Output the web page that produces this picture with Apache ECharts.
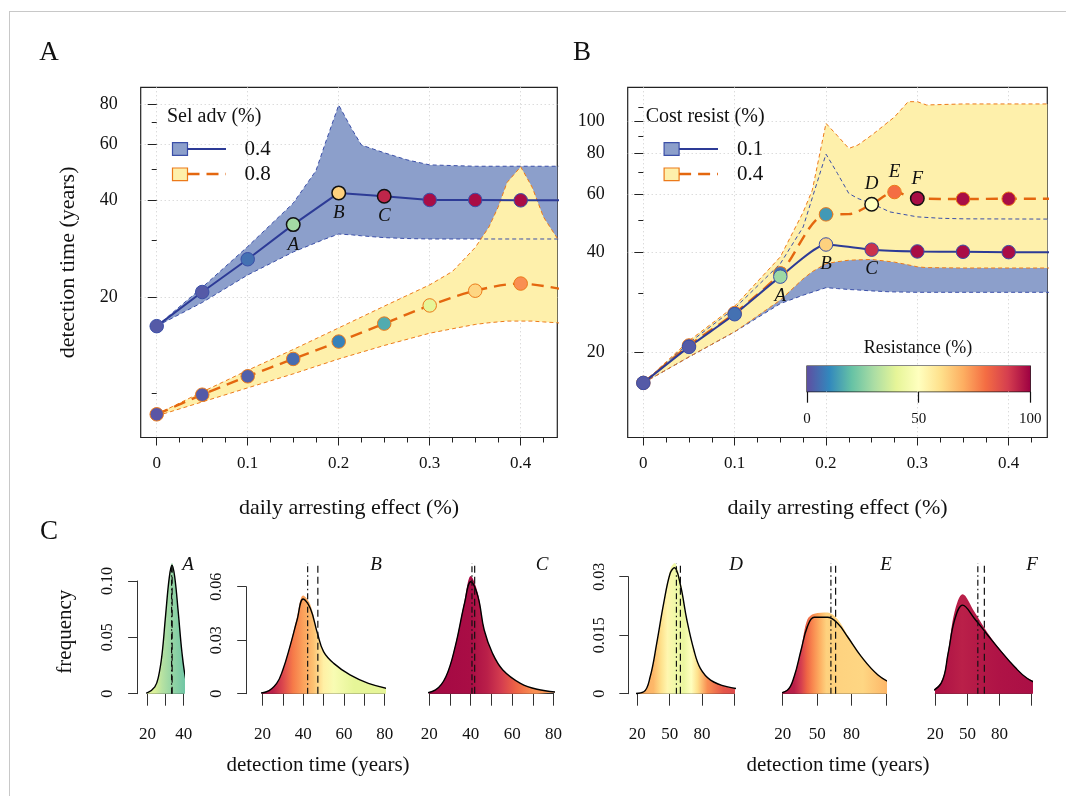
<!DOCTYPE html>
<html><head><meta charset="utf-8">
<script src="https://cdn.jsdelivr.net/npm/echarts@6/dist/echarts.min.js"></script>
<style>
html,body{margin:0;padding:0;background:#fff;overflow:hidden;}
#c{width:1066px;height:796px;}
#frame{position:absolute;left:9px;top:11px;width:1200px;height:900px;border-left:1px solid #c8c8c8;border-top:1px solid #c8c8c8;pointer-events:none;}
</style>
</head><body><div id="c"></div><div id="frame"></div>
<script>
// ---------------- DATA ----------------
// Panel A : Sel adv (%) 0.4 and 0.8
const A_x = [0, 0.05, 0.1, 0.15, 0.2, 0.25, 0.3, 0.35, 0.4];
const A_sel04_mean = [16.2, 20.7, 26.2, 33.6, 42.2, 41.2, 40.1, 40.1, 40.0];
const A_sel04_res  = [2, 2, 6, 29, 63, 94, 98, 98, 98];
const A_sel08_mean = [8.6, 9.9, 11.3, 12.8, 14.5, 16.5, 18.8, 20.9, 22.0];
const A_sel08_res  = [1, 2, 3, 5, 9, 16, 40, 62, 75];
const A_tail_x = 0.45;
const A_sel04_tail = 40.0;
const A_sel08_tail = 21.0;

const A_band04_x  = [0, 0.05, 0.1, 0.15, 0.175, 0.185, 0.2, 0.215, 0.225, 0.25, 0.275, 0.3, 0.35, 0.4, 0.45];
const A_band04_lo = [16.2, 19.2, 23.4, 27.6, 29.5, 30.3, 31.4, 31.2, 31.0, 30.6, 30.4, 30.3, 30.3, 30.3, 30.3];
const A_band04_hi = [16.2, 21.4, 28.7, 39.2, 49.5, 60.0, 79.3, 66.3, 59.5, 56.3, 53.5, 51.6, 51.1, 51.1, 51.1];
const A_band08_x  = [0, 0.05, 0.1, 0.15, 0.2, 0.25, 0.3, 0.325, 0.35, 0.365, 0.375, 0.385, 0.4, 0.4125, 0.425, 0.44, 0.45];
const A_band08_lo = [8.5, 9.4, 10.4, 11.5, 12.8, 14.1, 15.4, 15.9, 16.4, 16.6, 16.7, 16.8, 16.8, 16.8, 16.7, 16.6, 16.5];
const A_band08_hi = [8.6, 10.1, 11.8, 13.7, 16.0, 18.7, 21.8, 24.0, 28.5, 33.0, 38.0, 45.5, 50.9, 44.0, 35.5, 30.5, 29.0];

// Panel B : Cost resist (%) 0.1 and 0.4
const B_x = [0, 0.05, 0.1, 0.15, 0.2, 0.25, 0.3, 0.35, 0.4];
const B_cost01_mean = [16.1, 20.7, 26.0, 33.8, 42.3, 40.8, 40.3, 40.2, 40.1];
const B_cost01_res  = [2, 2, 6, 28, 63, 92, 98, 98, 98];
const B_cost04_x    = [0, 0.05, 0.1, 0.15, 0.2, 0.25, 0.275, 0.3, 0.35, 0.4];
const B_cost04_mean = [16.1, 20.9, 26.2, 34.6, 52.2, 56.0, 61.0, 58.3, 58.1, 58.2];
const B_cost04_res  = [1, 2, 5, 6, 13, 50, 80, 98, 98, 98];
const B_cost04_line_x = [0, 0.05, 0.1, 0.15, 0.2, 0.225, 0.25, 0.275, 0.3, 0.35, 0.4, 0.45];
const B_cost04_line   = [16.1, 20.9, 26.2, 34.6, 52.2, 52.3, 56.0, 61.0, 58.3, 58.1, 58.2, 58.2];
const B_tail_x = 0.45;
const B_cost01_tail = 40.1;

const B_band01_x  = [0, 0.05, 0.1, 0.15, 0.175, 0.2, 0.2125, 0.225, 0.235, 0.25, 0.27, 0.3, 0.325, 0.35, 0.45];
const B_band01_lo = [16.1, 19.3, 23.0, 28.0, 29.7, 31.3, 31.1, 30.9, 30.8, 30.6, 30.4, 30.3, 30.3, 30.3, 30.3];
const B_band01_hi = [16.1, 21.3, 27.1, 37.0, 47.8, 79.5, 69.5, 60.4, 58.3, 56.3, 53.1, 51.3, 50.8, 50.6, 50.5];
const B_band04_x  = [0, 0.05, 0.1, 0.15, 0.175, 0.185, 0.2, 0.212, 0.225, 0.235, 0.25, 0.275, 0.29, 0.3, 0.31, 0.35, 0.45];
const B_band04_lo = [16.1, 19.3, 23.0, 28.7, 33.3, 35.0, 37.0, 37.5, 37.9, 38.0, 38.1, 37.4, 36.7, 36.2, 36.0, 35.9, 35.9];
const B_band04_hi = [16.1, 21.6, 27.5, 38.8, 53.0, 61.8, 98.5, 90.7, 82.7, 84.7, 90.7, 103.0, 114.6, 114.6, 112.0, 112.8, 112.8];

// axis ticks
const X_LABELS = [0, 0.1, 0.2, 0.3, 0.4];
const X_MINOR = [0.025, 0.05, 0.075, 0.125, 0.15, 0.175, 0.225, 0.25, 0.275, 0.325, 0.35, 0.375, 0.425];
const A_Y_LABELS = [20, 40, 60, 80];
const A_Y_MINOR = [10, 30, 50, 70];
const B_Y_LABELS = [20, 40, 60, 80, 100];
const B_Y_MINOR = [30, 50, 70, 90, 110];
const CB_TICKS = [0, 50, 100];

// Panel C histograms (detection time in years, frequency)
const CA_x    = [16, 20, 24, 26, 28, 30, 32, 33.5, 35, 37, 39, 41, 43, 46, 50];
const CA_dens = [0, 0.001, 0.006, 0.015, 0.035, 0.07, 0.103, 0.114, 0.104, 0.072, 0.037, 0.014, 0.004, 0.0005, 0];
const CA_hist = [0, 0.001, 0.006, 0.015, 0.036, 0.071, 0.104, 0.116, 0.105, 0.073, 0.037, 0.014, 0.004, 0.0005, 0];
const CA_resX = [16, 24, 28, 32, 36, 40, 50];
const CA_res  = [42, 38, 32, 28, 25, 22, 20];
const CA_lines = [33.3, 33.6];

const CB_x    = [14, 22, 27, 30, 33.5, 37, 40, 43.5, 47, 50, 55, 63, 72, 83];
const CB_dens = [0, 0.0011, 0.0058, 0.0133, 0.0264, 0.0413, 0.0531, 0.0479, 0.0339, 0.0236, 0.017, 0.0105, 0.0058, 0.0025];
const CB_hist = [0, 0.0012, 0.006, 0.0135, 0.027, 0.043, 0.055, 0.05, 0.034, 0.024, 0.017, 0.0105, 0.0058, 0.0025];
const CB_resX = [14, 25, 30, 35, 40, 45, 50, 55, 65, 83];
const CB_res  = [97, 95, 88, 78, 72, 66, 55, 47, 40, 40];
const CB_lines = [42.2, 47.2];

const CC_x    = [15.5, 23, 28, 32.5, 37, 40, 43.5, 46.5, 50.5, 55.5, 64, 72, 82.5];
const CC_dens = [0, 0.0021, 0.0095, 0.0264, 0.0507, 0.0628, 0.0544, 0.0357, 0.0227, 0.0133, 0.0058, 0.0025, 0.0008];
const CC_hist = [0, 0.0022, 0.0098, 0.027, 0.052, 0.066, 0.056, 0.036, 0.0228, 0.0133, 0.0058, 0.0025, 0.0008];
const CC_resX = [15, 40, 48, 55, 62, 70, 82];
const CC_res  = [99, 98, 95, 90, 82, 75, 72];
const CC_lines = [40.6, 41.9];

const CD_x    = [15, 26, 32, 38, 44.5, 50.5, 54.5, 60, 66, 72.5, 78.5, 88, 103, 125];
const CD_dens = [0, 0.0005, 0.0044, 0.0129, 0.0232, 0.0309, 0.0323, 0.0279, 0.0189, 0.0112, 0.0065, 0.0035, 0.0018, 0.0009];
const CD_hist = [0, 0.0005, 0.0045, 0.013, 0.0235, 0.0318, 0.0335, 0.029, 0.019, 0.0112, 0.0065, 0.0035, 0.0018, 0.0009];
const CD_resX = [15, 35, 42, 48, 55, 63, 70, 76, 85, 100, 125];
const CD_res  = [72, 68, 60, 53, 44, 42, 50, 60, 75, 85, 90];
const CD_lines = [56.3, 60.0];

const CE_x    = [11.5, 24, 30, 36, 41.5, 47.5, 59, 68, 76.5, 88.5, 103, 117.5, 125.5];
const CE_dens = [0, 0.0009, 0.0044, 0.0112, 0.0172, 0.0196, 0.0196, 0.018, 0.0146, 0.0095, 0.0048, 0.0022, 0.0011];
const CE_hist = [0, 0.001, 0.0046, 0.0115, 0.019, 0.0205, 0.0208, 0.019, 0.015, 0.0097, 0.0049, 0.0023, 0.0012];
const CE_resX = [11, 30, 36, 41, 46, 52, 58, 90, 110, 126];
const CE_res  = [97, 95, 90, 82, 76, 70, 63, 62, 68, 72];
const CE_lines = [62.0, 66.1];

const CF_x    = [12, 25.5, 32, 38, 45.5, 56.5, 69, 81.5, 94, 106, 126];
const CF_dens = [0, 0.0027, 0.0104, 0.0189, 0.0227, 0.0193, 0.015, 0.0108, 0.0069, 0.0039, 0.0014];
const CF_hist = [0, 0.003, 0.011, 0.021, 0.0255, 0.021, 0.0155, 0.011, 0.007, 0.004, 0.0015];
const CF_resX = [12, 35, 45, 60, 80, 126];
const CF_res  = [98, 96, 95, 96, 97, 98];
const CF_lines = [59.7, 65.8];

const C_TICKS_AB = [20, 30, 40];
const C_LABELS_A = [20, 40];
const C_TICKS_BC = [20, 30, 40, 50, 60, 70, 80];
const C_LABELS_BC = [20, 40, 60, 80];
const C_TICKS_DEF = [20, 50, 80, 110];
const C_LABELS_DEF = [20, 50, 80];
const CA_YT = [0, 0.05, 0.1];
const CA_YT_TXT = ['0', '0.05', '0.10'];
const CB_YT = [0, 0.03, 0.06];
const CB_YT_TXT = ['0', '0.03', '0.06'];
const CD_YT = [0, 0.015, 0.03];
const CD_YT_TXT = ['0', '0.015', '0.03'];

// ---------------- STYLE ----------------
const FONT = '"Liberation Serif", "DejaVu Serif", serif';
const SPECTRAL = ['#5E4FA2','#3288BD','#66C2A5','#ABDDA4','#E6F598','#FFFFBF','#FEE08B','#FDAE61','#F46D43','#D53E4F','#9E0142'];
const BLUE_LINE = '#2D3B96', BLUE_EDGE = '#3B4FA8', BLUE_FILL = '#8C9FCB';
const OR_LINE = '#E4670F', OR_EDGE = '#EC7A1A', YEL_FILL = '#FEF0AB';

function hex2rgb(h){ h = h.replace('#',''); return [parseInt(h.substr(0,2),16), parseInt(h.substr(2,2),16), parseInt(h.substr(4,2),16)]; }
function resColor(r){
  const t = Math.max(0, Math.min(100, r)) / 10;
  const i = Math.min(9, Math.floor(t)); const f = t - i;
  const a = hex2rgb(SPECTRAL[i]), b = hex2rgb(SPECTRAL[i+1]);
  const c = a.map((v,k)=>Math.round(v + (b[k]-v)*f));
  return 'rgb(' + c.join(',') + ')';
}
function zip(xs, ys){ return xs.map((x,i)=>[x, ys[i]]); }

const xAxes = [], yAxes = [], series = [];
const tickLine = {color:'#222', width:1};

function mainAxes(gi, xr, yr, yLab, yMin, yName){
  const xi = xAxes.length;
  xAxes.push({gridIndex:gi, type:'value', position:'bottom', min:xr[0], max:xr[1],
    axisLine:{show:false},
    axisTick:{show:true, length:8, customValues:X_LABELS, lineStyle:tickLine},
    axisLabel:{show:true, customValues:X_LABELS, margin:18, fontSize:17, fontFamily:FONT, color:'#111', formatter:v=>String(+(+v).toFixed(3))},
    splitLine:{show:true, lineStyle:{color:'#cccccc', type:[1,3], width:1}},
    name:'daily arresting effect (%)', nameLocation:'middle', nameGap:60,
    nameTextStyle:{fontSize:22, fontFamily:FONT, color:'#111'}});
  xAxes.push({gridIndex:gi, type:'value', position:'bottom', min:xr[0], max:xr[1],
    axisLine:{show:false}, axisTick:{show:true, length:5, customValues:X_MINOR, lineStyle:tickLine},
    axisLabel:{show:false}, splitLine:{show:false}});
  const yi = yAxes.length;
  const y0 = {gridIndex:gi, type:'log', logBase:10, position:'left', min:yr[0], max:yr[1],
    axisLine:{show:false},
    axisTick:{show:true, length:9, customValues:yLab, lineStyle:tickLine},
    axisLabel:{show:true, customValues:yLab, margin:23, fontSize:18, fontFamily:FONT, color:'#111'},
    splitLine:{show:true, lineStyle:{color:'#cccccc', type:[1,3], width:1}}};
  if (yName){ y0.name = yName; y0.nameLocation = 'middle'; y0.nameGap = 61;
    y0.nameTextStyle = {fontSize:22, fontFamily:FONT, color:'#111'}; }
  yAxes.push(y0);
  yAxes.push({gridIndex:gi, type:'log', logBase:10, position:'left', min:yr[0], max:yr[1],
    axisLine:{show:false}, axisTick:{show:true, length:5, customValues:yMin, lineStyle:tickLine},
    axisLabel:{show:false}, splitLine:{show:false}});
  return [xi, yi];
}

// filled band between lower and upper curves, drawn through the axes' scales
function band(xi, yi, xs, lo, hi, fill){
  series.push({type:'custom', xAxisIndex:xi, yAxisIndex:yi, silent:true, z:1,
    data: zip(xs, hi),
    renderItem:(params, api)=>{
      if (params.dataIndex !== 0) return null;
      const up = xs.map((x,i)=>api.coord([x, hi[i]]));
      const dn = xs.map((x,i)=>api.coord([x, lo[i]])).reverse();
      const cs = params.coordSys;
      return {type:'polygon', shape:{points:up.concat(dn)}, style:{fill:fill, stroke:null},
        clipPath:{type:'rect', shape:{x:cs.x, y:cs.y, width:cs.width, height:cs.height}}};
    }});
}
function edge(xi, yi, xs, ys, color){
  series.push({type:'line', xAxisIndex:xi, yAxisIndex:yi, data:zip(xs, ys), symbol:'none', silent:true,
    lineStyle:{color:color, width:1, type:[4,3]}, z:2});
}
function meanLine(xi, yi, xs, ys, color, dashed, smooth){
  series.push({type:'line', xAxisIndex:xi, yAxisIndex:yi, data:zip(xs, ys), symbol:'none', silent:true, smooth:smooth,
    lineStyle:{color:color, width: dashed ? 2.4 : 2, type: dashed ? [12,7] : 'solid'}, z:3});
}
function points(xi, yi, xs, ys, rs, edgeColor, marks){
  const data = xs.map((x,i)=>{
    const m = marks[i];
    const d = {value:[x, ys[i]], itemStyle:{color:resColor(rs[i]), opacity:1, borderColor: m && m.black ? '#111' : edgeColor, borderWidth: m && m.black ? 1.5 : 1}};
    if (m) d.label = {show:true, formatter:m.t, position:m.pos, distance:3, fontStyle:'italic', fontSize:19, fontFamily:FONT, color:'#111'};
    return d;
  });
  series.push({type:'scatter', xAxisIndex:xi, yAxisIndex:yi, data:data, symbol:'circle', symbolSize:13.5, silent:true, z:4,
    itemStyle:{opacity:1}});
}

// Panel A
const [axA, ayA] = mainAxes(0, [-0.0176, 0.4402], [7.28, 90.1], A_Y_LABELS, A_Y_MINOR, 'detection time (years)');
band(axA, ayA, A_band04_x, A_band04_lo, A_band04_hi, BLUE_FILL);
band(axA, ayA, A_band08_x, A_band08_lo, A_band08_hi, YEL_FILL);
edge(axA, ayA, A_band04_x, A_band04_lo, BLUE_EDGE);
edge(axA, ayA, A_band04_x, A_band04_hi, BLUE_EDGE);
edge(axA, ayA, A_band08_x, A_band08_lo, OR_EDGE);
edge(axA, ayA, A_band08_x, A_band08_hi, OR_EDGE);
meanLine(axA, ayA, A_x.concat([A_tail_x]), A_sel04_mean.concat([A_sel04_tail]), BLUE_LINE, false, false);
meanLine(axA, ayA, A_x.concat([A_tail_x]), A_sel08_mean.concat([A_sel08_tail]), OR_LINE, true, 0.3);
points(axA, ayA, A_x, A_sel08_mean, A_sel08_res, OR_EDGE, {});
points(axA, ayA, A_x, A_sel04_mean, A_sel04_res, BLUE_EDGE,
  {3:{t:'A', pos:'bottom', black:true}, 4:{t:'B', pos:'bottom', black:true}, 5:{t:'C', pos:'bottom', black:true}});

// Panel B
const [axB, ayB] = mainAxes(1, [-0.0171, 0.4423], [11.0, 126.7], B_Y_LABELS, B_Y_MINOR, null);
band(axB, ayB, B_band01_x, B_band01_lo, B_band01_hi, BLUE_FILL);
band(axB, ayB, B_band04_x, B_band04_lo, B_band04_hi, YEL_FILL);
edge(axB, ayB, B_band01_x, B_band01_lo, BLUE_EDGE);
edge(axB, ayB, B_band01_x, B_band01_hi, BLUE_EDGE);
edge(axB, ayB, B_band04_x, B_band04_lo, OR_EDGE);
edge(axB, ayB, B_band04_x, B_band04_hi, OR_EDGE);
meanLine(axB, ayB, B_cost04_line_x, B_cost04_line, OR_LINE, true, 0.3);
meanLine(axB, ayB, B_x.concat([B_tail_x]), B_cost01_mean.concat([B_cost01_tail]), BLUE_LINE, false, 0.2);
points(axB, ayB, B_cost04_x, B_cost04_mean, B_cost04_res, OR_EDGE,
  {5:{t:'D', pos:'top', black:true}, 6:{t:'E', pos:'top'}, 7:{t:'F', pos:'top', black:true}});
points(axB, ayB, B_x, B_cost01_mean, B_cost01_res, BLUE_EDGE,
  {3:{t:'A', pos:'bottom'}, 4:{t:'B', pos:'bottom'}, 5:{t:'C', pos:'bottom'}});

// Colorbar (grid 2)
const cbx = xAxes.length;
xAxes.push({gridIndex:2, type:'value', position:'bottom', min:0, max:100, axisLine:{show:false},
  axisTick:{show:true, length:11, customValues:CB_TICKS, lineStyle:{color:'#111', width:1.2}},
  axisLabel:{show:true, customValues:CB_TICKS, margin:20, fontSize:15, fontFamily:FONT, color:'#111', showMaxLabel:true, showMinLabel:true, hideOverlap:false},
  splitLine:{show:false}});
const cby = yAxes.length;
yAxes.push({gridIndex:2, type:'value', min:0, max:1, show:false});
series.push({type:'line', xAxisIndex:cbx, yAxisIndex:cby, data:zip([CB_TICKS[0], CB_TICKS[2]], [1, 1]), symbol:'none', silent:true,
  lineStyle:{width:0, opacity:0},
  areaStyle:{opacity:1, color:{type:'linear', x:0, y:0, x2:1, y2:0,
    colorStops: SPECTRAL.map((c,i)=>({offset:i/10, color:c}))}}, z:1});

// Panel C small histograms
const smallDefs = [
  {g:3, xr:[20,40], xt:C_TICKS_AB, xl:C_LABELS_A, ymax:0.1, yt:CA_YT, ytx:CA_YT_TXT, yoff:10.5, yshow:true, hx:CA_x, hh:CA_hist, hd:CA_dens, rx:CA_resX, rr:CA_res, vl:CA_lines, vtop:0.1157},
  {g:4, xr:[20,80], xt:C_TICKS_BC, xl:C_LABELS_BC, ymax:0.06, yt:CB_YT, ytx:CB_YT_TXT, yoff:16.2, yshow:true, hx:CB_x, hh:CB_hist, hd:CB_dens, rx:CB_resX, rr:CB_res, vl:CB_lines, vtop:0.0733},
  {g:5, xr:[20,80], xt:C_TICKS_BC, xl:C_LABELS_BC, ymax:0.06, yt:CB_YT, ytx:CB_YT_TXT, yoff:0, yshow:false, hx:CC_x, hh:CC_hist, hd:CC_dens, rx:CC_resX, rr:CC_res, vl:CC_lines, vtop:0.0733},
  {g:6, xr:[20,110], xt:C_TICKS_DEF, xl:C_LABELS_DEF, ymax:0.03, yt:CD_YT, ytx:CD_YT_TXT, yoff:9, yshow:true, hx:CD_x, hh:CD_hist, hd:CD_dens, rx:CD_resX, rr:CD_res, vl:CD_lines, vtop:0.0335},
  {g:7, xr:[20,110], xt:C_TICKS_DEF, xl:C_LABELS_DEF, ymax:0.03, yt:CD_YT, ytx:CD_YT_TXT, yoff:0, yshow:false, hx:CE_x, hh:CE_hist, hd:CE_dens, rx:CE_resX, rr:CE_res, vl:CE_lines, vtop:0.0335},
  {g:8, xr:[20,110], xt:C_TICKS_DEF, xl:C_LABELS_DEF, ymax:0.03, yt:CD_YT, ytx:CD_YT_TXT, yoff:0, yshow:false, hx:CF_x, hh:CF_hist, hd:CF_dens, rx:CF_resX, rr:CF_res, vl:CF_lines, vtop:0.0335},
];
smallDefs.forEach(s=>{
  const xi = xAxes.length, yi = yAxes.length;
  xAxes.push({gridIndex:s.g, type:'value', position:'bottom', offset:5, min:s.xr[0], max:s.xr[1],
    axisLine:{show:true, lineStyle:{color:'#333', width:1}},
    axisTick:{show:true, length:12, customValues:s.xt, lineStyle:{color:'#333', width:1}},
    axisLabel:{show:true, customValues:s.xl, margin:27, fontSize:17, fontFamily:FONT, color:'#111'},
    splitLine:{show:false}});
  yAxes.push({gridIndex:s.g, type:'value', position:'left', offset:s.yoff, min:0, max:s.ymax, show:s.yshow,
    axisLine:{show:true, lineStyle:{color:'#333', width:1}},
    axisTick:{show:true, length:9, customValues:s.yt, lineStyle:{color:'#333', width:1}},
    axisLabel:{show:true, customValues:s.yt, rotate:90, margin:21, fontSize:16, fontFamily:FONT, color:'#111',
      formatter:v=>{ const k = s.yt.findIndex(t=>Math.abs(t - v) < 1e-9); return k >= 0 ? s.ytx[k] : String(v); }},
    splitLine:{show:false}});
  const x0 = s.hx[0], x1 = s.hx[s.hx.length-1];
  const stops = s.rx.map((x,i)=>({offset:Math.max(0, Math.min(1, (x - x0)/(x1 - x0))), color:resColor(s.rr[i])}));
  series.push({type:'line', xAxisIndex:xi, yAxisIndex:yi, data:zip(s.hx, s.hh), symbol:'none', smooth:0.35, clip:false, silent:true,
    lineStyle:{width:0, opacity:0},
    areaStyle:{opacity:1, color:{type:'linear', x:0, y:0, x2:1, y2:0, colorStops:stops}}, z:1});
  series.push({type:'line', xAxisIndex:xi, yAxisIndex:yi, data:zip(s.hx, s.hd), symbol:'none', smooth:0.4, clip:false, silent:true,
    lineStyle:{color:'#000', width:1.4}, z:2});
  // median (dot-dash) and mean (dashed) detection times
  series.push({type:'line', xAxisIndex:xi, yAxisIndex:yi, data:[[s.vl[0], 0], [s.vl[0], s.vtop]], symbol:'none', clip:false, silent:true,
    lineStyle:{color:'#111', width:1.2, type:[6,3,1.5,3]}, z:3});
  series.push({type:'line', xAxisIndex:xi, yAxisIndex:yi, data:[[s.vl[1], 0], [s.vl[1], s.vtop]], symbol:'none', clip:false, silent:true,
    lineStyle:{color:'#111', width:1.2, type:[7,4]}, z:3});
});

// ---------------- TEXT / LEGENDS ----------------
function txt(x, y, t, size, opts){
  opts = opts || {};
  return {type:'text', x:x, y:y, rotation:opts.rot || 0, z:10, silent:true,
    style:{text:t, fontSize:size, fontFamily:FONT, fontStyle:opts.italic ? 'italic' : 'normal',
      fill:'#111', align:opts.align || 'center', verticalAlign:'middle'}};
}
const graphics = [
  txt(49, 53, 'A', 27), txt(582, 53, 'B', 27), txt(49, 532, 'C', 27),
  // legend A
  txt(167, 117, 'Sel adv (%)', 20, {align:'left'}),
  {type:'rect', z:10, shape:{x:172.5, y:142.7, width:15, height:12.6}, style:{fill:BLUE_FILL, stroke:BLUE_EDGE, lineWidth:1.2}},
  {type:'line', z:10, shape:{x1:187.5, y1:149, x2:226, y2:149}, style:{stroke:BLUE_LINE, lineWidth:2}},
  txt(244.6, 149, '0.4', 21, {align:'left'}),
  {type:'rect', z:10, shape:{x:172.5, y:168, width:15, height:12.6}, style:{fill:YEL_FILL, stroke:OR_EDGE, lineWidth:1.2}},
  {type:'line', z:10, shape:{x1:187.5, y1:174, x2:226, y2:174}, style:{stroke:OR_LINE, lineWidth:2.4, lineDash:[12,7]}},
  txt(244.6, 174, '0.8', 21, {align:'left'}),
  // legend B
  txt(645.7, 117, 'Cost resist (%)', 20, {align:'left'}),
  {type:'rect', z:10, shape:{x:664.1, y:142.7, width:15, height:12.6}, style:{fill:BLUE_FILL, stroke:BLUE_EDGE, lineWidth:1.2}},
  {type:'line', z:10, shape:{x1:679.1, y1:149, x2:718, y2:149}, style:{stroke:BLUE_LINE, lineWidth:2}},
  txt(737, 149, '0.1', 21, {align:'left'}),
  {type:'rect', z:10, shape:{x:664.1, y:168, width:15, height:12.6}, style:{fill:YEL_FILL, stroke:OR_EDGE, lineWidth:1.2}},
  {type:'line', z:10, shape:{x1:679.1, y1:174, x2:718, y2:174}, style:{stroke:OR_LINE, lineWidth:2.4, lineDash:[12,7]}},
  txt(737, 174, '0.4', 21, {align:'left'}),
  // colorbar title
  txt(918, 348.3, 'Resistance (%)', 18),
  // panel C texts
  txt(65.5, 631.7, 'frequency', 21, {rot:Math.PI/2}),
  txt(318, 765, 'detection time (years)', 21),
  txt(838, 765, 'detection time (years)', 21),
  txt(188, 565, 'A', 19, {italic:true}), txt(376, 565, 'B', 19, {italic:true}), txt(542, 565, 'C', 19, {italic:true}),
  txt(736, 565, 'D', 19, {italic:true}), txt(886, 565, 'E', 19, {italic:true}), txt(1032, 565, 'F', 19, {italic:true})
];

const grids = [
  {left:140.7, right:508.7, top:87.3, bottom:358.5, show:true, borderColor:'#222', borderWidth:1.2, backgroundColor:'transparent'},
  {left:627.7, right:18.7, top:87.3, bottom:358.5, show:true, borderColor:'#222', borderWidth:1.2, backgroundColor:'transparent'},
  {left:807, right:35.7, top:366, bottom:404.3, show:true, borderColor:'#111', borderWidth:1.2, backgroundColor:'transparent'},
  {left:147.6, right:882.3, top:581, bottom:102.3},
  {left:262.4, right:681.3, top:586.7, bottom:102.3},
  {left:429.3, right:512.4, top:586.7, bottom:102.3},
  {left:637.3, right:331.7, top:576.7, bottom:102.3},
  {left:782.7, right:180, top:576.7, bottom:102.3},
  {left:935.3, right:34.3, top:576.7, bottom:102.3}
];
grids.forEach(g=>{ g.containLabel = false; });

const chart = echarts.init(document.getElementById('c'), null, {renderer:'canvas'});
chart.setOption({
  animation:false,
  backgroundColor:'#fff',
  textStyle:{fontFamily:FONT},
  grid:grids, xAxis:xAxes, yAxis:yAxes, series:series, graphic:graphics
});
</script></body></html>
